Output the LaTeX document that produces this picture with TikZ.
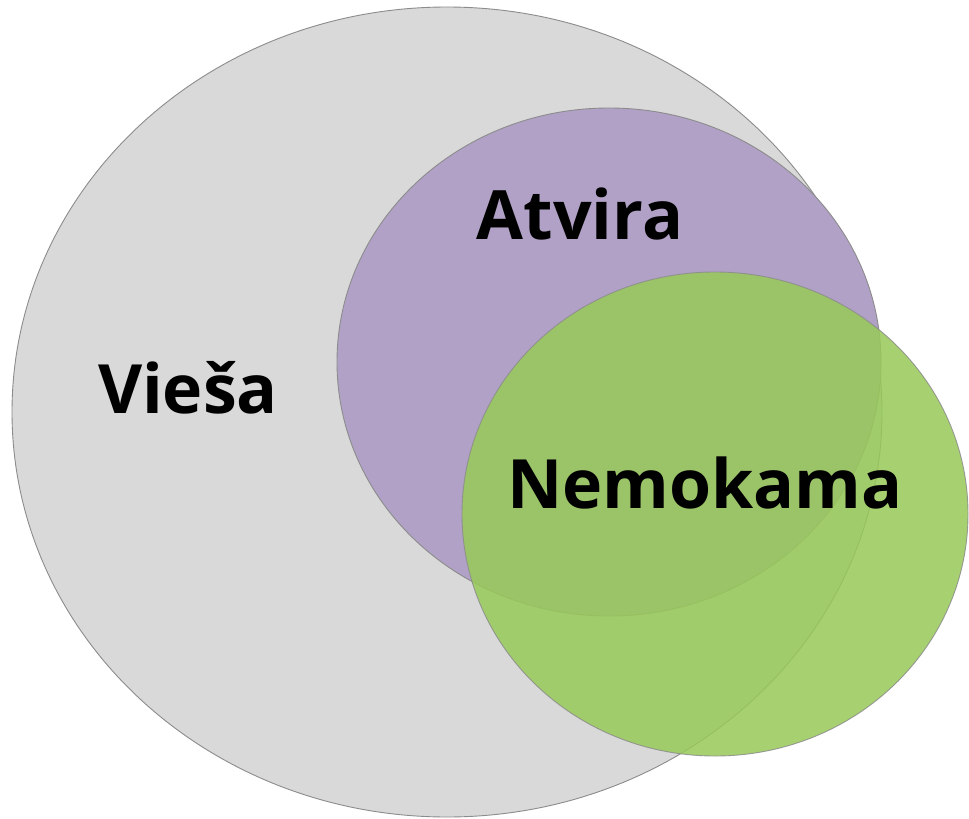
\documentclass[tikz,border=0pt]{standalone}
\usepackage{fontspec}
\setmainfont{Open Sans}
\usepackage{tikz}

\definecolor{setgrey}{RGB}{217,217,217}
\definecolor{setpurple}{RGB}{177,161,199}
\definecolor{setgreen}{RGB}{152,202,88}

\begin{document}
\begin{tikzpicture}[x=1pt,y=-1pt,
  set/.style={draw=black!45,line width=0.9pt},
  label/.style={anchor=base,inner sep=0pt,font=\fontsize{68}{76}\selectfont\bfseries}]

  \useasboundingbox (0,0) rectangle (969,819);

  \fill[white] (0,0) rectangle (969,819);
  \draw[set,fill=setgrey] (447,412) ellipse [x radius=435,y radius=405];
  \draw[set,fill=setpurple] (609,362) ellipse [x radius=272,y radius=254];
  \draw[set,fill=setgreen,fill opacity=0.85,draw opacity=0.85] (715,514) ellipse [x radius=253,y radius=242];

  \node[label] (viesa) at (188,413) {Vieša};
  \node[label] (atvira) at (580,239) {Atvira};
  \node[label] (nemokama) at (705,508) {Nemokama};

\end{tikzpicture}
\end{document}
